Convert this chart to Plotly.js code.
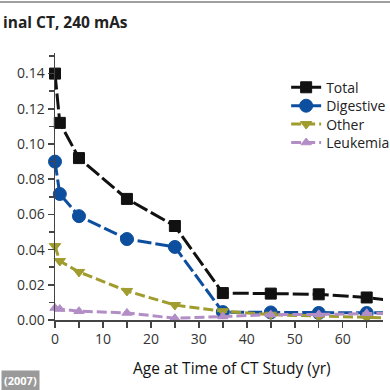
<!DOCTYPE html>
<html>
<head>
<meta charset="utf-8">
<script src="https://cdn.plot.ly/plotly-3.0.1.min.js"></script>
<style>html,body{margin:0;padding:0;background:#fff;overflow:hidden}#wrap{position:relative;width:390px;height:390px;overflow:hidden}#chart{width:400px;height:390px}#topline{position:absolute;left:0;top:1px;width:390px;height:2px;background:#a0a0a0}</style>
</head>
<body>
<div id="wrap"><div id="chart"></div><div id="topline"></div></div>
<script>
const ages = [0, 1, 5, 15, 25, 35, 45, 55, 65, 75];
const total = [0.140, 0.112, 0.092, 0.0688, 0.0534, 0.0153, 0.0150, 0.0146, 0.0128, 0.0095];
const digestive = [0.090, 0.0716, 0.059, 0.046, 0.0415, 0.0045, 0.0043, 0.0040, 0.0040, 0.0040];
const other = [0.042, 0.0335, 0.0273, 0.0165, 0.0085, 0.0050, 0.0030, 0.0020, 0.0012, 0.0008];
const leukemia = [0.0068, 0.0062, 0.0050, 0.0040, 0.0010, 0.0020, 0.0030, 0.0032, 0.0038, 0.0040];
const seriesNames = ["Total", "Digestive", "Other", "Leukemia"];
const xTickVals = [0, 10, 20, 30, 40, 50, 60, 70];
const yTickVals = [0, 0.02, 0.04, 0.06, 0.08, 0.10, 0.12, 0.14];

const FONT = "Open Sans, Noto Sans, sans-serif";
function tr(y, name, color, sym, size, dash, lc) {
  return {x: ages, y: y, name: name, type: 'scatter', mode: 'lines+markers', cliponaxis: false,
    line: {color: lc || color, width: 3, dash: dash},
    marker: {symbol: sym, size: size, color: color, line: {color: lc || color, width: 1}}};
}
const data = [
  tr(total, seriesNames[0], '#111111', 'square', 11, '16px,4px', '#111111'),
  tr(digestive, seriesNames[1], '#0d4f9e', 'circle', 13, '14px,4px'),
  tr(other, seriesNames[2], '#a09c2e', 'triangle-down', 10, '10px,4px'),
  tr(leukemia, seriesNames[3], '#b38ec6', 'triangle-up', 9, '10px,4px')
];
const layout = {
  width: 400, height: 390,
  margin: {l: 55, r: 10, t: 53, b: 70},
  paper_bgcolor: '#fff', plot_bgcolor: '#fff',
  font: {family: FONT, size: 14, color: '#333'},
  showlegend: true,
  legend: {x: 0.69, y: 0.93, xanchor: 'left', yanchor: 'top', bgcolor: 'rgba(0,0,0,0)',
    font: {family: FONT, size: 14, color: '#222'}, tracegroupgap: 0},
  xaxis: {range: [0, 68.4], tickvals: xTickVals, ticktext: xTickVals.map(String),
    showgrid: false, zeroline: false, showline: true, linecolor: '#444', linewidth: 1.5,
    ticks: 'outside', ticklen: 6, tickwidth: 1.5, tickcolor: '#444',
    minor: {dtick: 5, tick0: 0, ticks: 'outside', ticklen: 6, tickwidth: 1.5, tickcolor: '#444'},
    tickfont: {family: FONT, size: 14, color: '#333'}},
  yaxis: {range: [0, 0.1517], tickvals: yTickVals, ticktext: yTickVals.map(v => v.toFixed(2)),
    showgrid: false, zeroline: false, showline: true, linecolor: '#444', linewidth: 1.5,
    ticks: 'outside', ticklen: 6, tickwidth: 1.5, tickcolor: '#444',
    minor: {dtick: 0.01, tick0: 0, ticks: 'outside', ticklen: 5, tickwidth: 1.5, tickcolor: '#444'},
    tickfont: {family: FONT, size: 14, color: '#333'}},
  annotations: [
    {text: '<b>inal CT, 240 mAs</b>', xref: 'paper', yref: 'paper', x: -0.164, y: 1.117,
      xanchor: 'left', yanchor: 'middle', showarrow: false,
      font: {family: FONT, size: 15.5, color: '#222'}, align: 'left'},
    {text: 'Age at Time of CT Study (yr)', xref: 'paper', yref: 'paper', x: 0.540, y: -0.18,
      xanchor: 'center', yanchor: 'middle', showarrow: false,
      font: {family: FONT, size: 15.5, color: '#111'}},
    {text: '<b>(2007)</b>', xref: 'paper', yref: 'paper', x: -0.164, y: -0.225,
      xanchor: 'left', yanchor: 'middle', showarrow: false, bgcolor: '#9a9a9a',
      font: {family: FONT, size: 11, color: '#ffffff'}, borderpad: 2}
  ]
};
Plotly.newPlot('chart', data, layout, {displayModeBar: false, staticPlot: true}).then(function(gd){
  // place the legend where the reference has it (Plotly keeps it inside the paper otherwise)
  var lg = document.querySelector('.legend');
  if (!lg) return;
  var m = /translate\(([-\d.]+),\s*([-\d.]+)\)/.exec(lg.getAttribute('transform') || '');
  if (m) lg.setAttribute('transform', 'translate(' + (55 + 0.69 * 335) + ',' + m[2] + ')');
  // tighter row spacing, as in the reference
  var items = lg.querySelectorAll('g.traces');
  var y0 = null;
  items.forEach(function(it, i) {
    var mm = /translate\(([-\d.]+),\s*([-\d.]+)\)/.exec(it.getAttribute('transform') || '');
    if (!mm) return;
    if (y0 === null) y0 = parseFloat(mm[2]);
    it.setAttribute('transform', 'translate(' + mm[1] + ',' + (y0 + i * 18.4) + ')');
  });
});
</script>
</body>
</html>
